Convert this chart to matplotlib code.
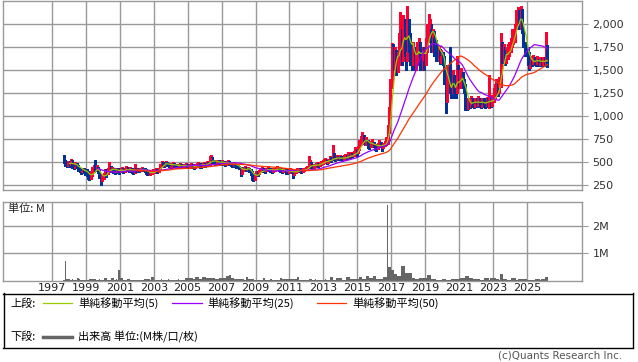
import matplotlib
matplotlib.use('Agg')
import matplotlib.pyplot as plt
import numpy as np
import pandas as pd

plt.rcParams['font.family'] = ['DejaVu Sans']
CJK = ['Noto Sans CJK JP', 'DejaVu Sans']

# ---------------- data (monthly, from Sep 1997) ----------------
start_year, start_month = 1997, 9
first_open = 560

closes = [
    500, 480, 470, 490,                                              # 1997 Sep-Dec
    480, 510, 470, 450, 480, 460, 430, 420, 400, 420, 410, 390,      # 1998
    380, 350, 330, 360, 400, 430, 420, 440, 400, 360, 300, 330,      # 1999
    360, 400, 380, 410, 440, 420, 430, 410, 400, 420, 410, 400,      # 2000
    410, 420, 400, 410, 430, 420, 410, 420, 400, 390, 430, 410,      # 2001
    420, 410, 420, 430, 420, 410, 400, 380, 370, 380, 390, 400,      # 2002
    400, 410, 400, 420, 460, 490, 480, 470, 490, 480, 470, 460,      # 2003
    470, 480, 470, 460, 450, 460, 470, 460, 450, 460, 470, 460,      # 2004
    450, 460, 470, 450, 440, 460, 470, 480, 460, 450, 470, 480,      # 2005
    470, 490, 480, 520, 540, 510, 500, 490, 500, 510, 500, 490,      # 2006
    500, 490, 480, 490, 500, 490, 480, 470, 480, 470, 460, 450,      # 2007
    440, 380, 410, 430, 440, 420, 430, 410, 390, 340, 320, 360,      # 2008
    380, 370, 390, 410, 420, 410, 400, 420, 430, 420, 410, 400,      # 2009
    410, 420, 430, 440, 420, 410, 400, 410, 420, 400, 380, 400,      # 2010
    410, 400, 370, 390, 400, 410, 420, 410, 400, 410, 420, 430,      # 2011
    440, 460, 480, 470, 450, 460, 470, 480, 470, 480, 490, 500,      # 2012
    510, 520, 500, 510, 530, 520, 560, 540, 530, 550, 540, 550,      # 2013
    540, 530, 550, 560, 550, 570, 560, 580, 570, 590, 620, 600,      # 2014
    640, 700, 720, 760, 740, 720, 730, 700, 680, 700, 710, 690,      # 2015
    670, 650, 680, 700, 690, 660, 680, 700, 740, 850, 1000, 1300,    # 2016
    1750, 1600, 1680, 1550, 1650, 1800, 1900, 1750, 1950, 1850, 1700, 2000,  # 2017
    1850, 1700, 1650, 1750, 1600, 1650, 1700, 1800, 1650, 1600, 1700, 1650,  # 2018
    1800, 1900, 1950, 2000, 1850, 1900, 1800, 1750, 1700, 1720, 1650, 1680,  # 2019
    1620, 1500, 1200, 1350, 1450, 1300, 1250, 1400, 1350, 1250, 1500, 1350,  # 2020
    1400, 1450, 1350, 1300, 1150, 1100, 1150, 1120, 1180, 1150, 1130, 1160,  # 2021
    1140, 1170, 1150, 1120, 1160, 1140, 1130, 1170, 1150, 1200, 1140, 1160,  # 2022
    1200, 1250, 1300, 1280, 1350, 1700, 1650, 1720, 1600, 1680, 1700, 1750,  # 2023
    1800, 1850, 1900, 1950, 2050, 2100, 2000, 2150, 1950, 1800, 1750, 1700,  # 2024
    1650, 1550, 1600, 1580, 1620, 1600, 1590, 1610, 1580, 1600, 1590, 1600,  # 2025
    1590, 1620, 1600,                                                # 2026 Jan-Mar
]

highs = [
    580, 520, 500, 510,
    510, 530, 520, 480, 500, 490, 470, 440, 430, 440, 430, 420,
    420, 400, 370, 400, 450, 470, 525, 470, 450, 410, 360, 370,
    380, 420, 420, 440, 500, 460, 450, 440, 420, 440, 430, 420,
    440, 450, 430, 430, 460, 450, 440, 450, 430, 420, 480, 430,
    440, 430, 440, 450, 440, 430, 420, 410, 400, 400, 410, 420,
    420, 430, 420, 440, 480, 510, 500, 490, 510, 500, 490, 480,
    490, 500, 490, 480, 470, 480, 490, 480, 470, 480, 490, 480,
    470, 480, 490, 480, 460, 480, 490, 500, 490, 470, 490, 500,
    490, 510, 500, 560, 580, 550, 520, 510, 520, 525, 520, 510,
    520, 510, 500, 510, 520, 510, 500, 490, 500, 490, 480, 470,
    460, 450, 430, 450, 460, 450, 450, 440, 420, 400, 360, 380,
    400, 400, 410, 430, 450, 440, 420, 440, 460, 440, 430, 420,
    430, 440, 450, 460, 450, 430, 420, 430, 440, 420, 400, 420,
    430, 420, 410, 410, 420, 430, 440, 430, 420, 430, 440, 450,
    460, 560, 520, 500, 480, 480, 490, 500, 490, 500, 510, 520,
    530, 540, 530, 530, 560, 550, 690, 600, 560, 580, 570, 580,
    570, 560, 580, 590, 580, 610, 590, 610, 600, 620, 660, 640,
    670, 740, 780, 830, 790, 760, 770, 740, 720, 730, 750, 720,
    700, 690, 710, 740, 720, 700, 710, 730, 770, 900, 1100, 1400,
    1790, 1780, 1750, 1720, 1700, 1900, 2130, 1950, 2100, 2050, 1900, 2190,
    2050, 1900, 1800, 1800, 1750, 1700, 1800, 1850, 1800, 1700, 1750, 1750,
    1850, 2000, 2110, 2050, 2000, 1950, 1920, 1820, 1780, 1760, 1730, 1720,
    1700, 1650, 1550, 1500, 1550, 1750, 1450, 1500, 1450, 1400, 1650, 1550,
    1500, 1520, 1480, 1400, 1350, 1200, 1200, 1180, 1220, 1200, 1180, 1200,
    1200, 1220, 1200, 1180, 1200, 1190, 1180, 1210, 1200, 1450, 1220, 1230,
    1300, 1350, 1400, 1380, 1420, 1900, 1800, 1780, 1750, 1750, 1780, 1800,
    1850, 1950, 1950, 2000, 2150, 2180, 2150, 2200, 2160, 1950, 1800, 1780,
    1750, 1700, 1650, 1640, 1660, 1640, 1630, 1650, 1620, 1640, 1630, 1640,
    1640, 1910, 1770,
]

lows = [
    490, 460, 450, 460,
    450, 470, 440, 420, 440, 430, 400, 390, 370, 390, 380, 360,
    350, 320, 300, 320, 350, 390, 400, 400, 380, 330, 255, 290,
    320, 350, 340, 370, 400, 390, 400, 380, 370, 390, 380, 370,
    390, 400, 380, 390, 400, 400, 390, 400, 380, 370, 380, 390,
    400, 390, 400, 410, 400, 390, 370, 360, 355, 360, 370, 380,
    380, 390, 380, 395, 420, 450, 460, 450, 460, 460, 450, 440,
    450, 460, 450, 440, 430, 440, 450, 440, 430, 440, 450, 440,
    430, 440, 450, 430, 420, 440, 450, 460, 440, 430, 450, 460,
    450, 460, 460, 470, 500, 490, 480, 470, 480, 490, 480, 470,
    480, 470, 460, 470, 480, 470, 460, 450, 460, 450, 440, 430,
    420, 345, 370, 400, 420, 400, 410, 390, 360, 300, 290, 310,
    350, 350, 370, 390, 400, 390, 380, 400, 410, 400, 390, 380,
    390, 400, 410, 420, 400, 390, 380, 390, 400, 370, 365, 380,
    390, 380, 330, 360, 380, 390, 400, 390, 380, 390, 400, 410,
    420, 430, 450, 440, 430, 440, 450, 460, 450, 460, 470, 480,
    490, 500, 480, 490, 500, 500, 520, 520, 510, 520, 520, 530,
    520, 510, 520, 540, 530, 540, 540, 550, 550, 560, 580, 570,
    600, 630, 680, 700, 700, 690, 690, 650, 640, 660, 670, 660,
    630, 620, 640, 660, 660, 620, 650, 670, 690, 700, 820, 980,
    1300, 1500, 1500, 1450, 1480, 1550, 1700, 1550, 1600, 1650, 1500, 1600,
    1700, 1550, 1500, 1550, 1500, 1500, 1550, 1600, 1500, 1500, 1500, 1500,
    1550, 1700, 1800, 1800, 1700, 1700, 1650, 1600, 1600, 1600, 1560, 1580,
    1550, 1350, 1035, 1150, 1300, 1250, 1200, 1250, 1200, 1200, 1250, 1300,
    1300, 1350, 1300, 1250, 1070, 1060, 1080, 1090, 1100, 1100, 1090, 1100,
    1100, 1110, 1100, 1090, 1100, 1100, 1090, 1110, 1100, 1090, 1100, 1110,
    1150, 1180, 1230, 1220, 1250, 1320, 1580, 1600, 1550, 1580, 1620, 1650,
    1700, 1750, 1780, 1800, 1950, 2000, 1950, 1950, 1900, 1750, 1650, 1650,
    1550, 1500, 1520, 1540, 1560, 1550, 1540, 1560, 1540, 1550, 1540, 1550,
    1540, 1560, 1530,
]

# volume in millions of shares
volumes = [
    0.03, 0.70, 0.04, 0.04,
    0.04, 0.03, 0.04, 0.02, 0.01, 0.02, 0.08, 0.07, 0.02, 0.01, 0.01, 0.01,
    0.01, 0.02, 0.04, 0.04, 0.04, 0.04, 0.04, 0.01, 0.01, 0.04, 0.02, 0.01,
    0.02, 0.08, 0.08, 0.02, 0.01, 0.02, 0.08, 0.08, 0.02, 0.04, 0.01, 0.38,
    0.08, 0.08, 0.02, 0.01, 0.01, 0.04, 0.04, 0.01, 0.01, 0.01, 0.01, 0.01,
    0.01, 0.01, 0.01, 0.01, 0.01, 0.04, 0.04, 0.04, 0.04, 0.01, 0.11, 0.11,
    0.01, 0.01, 0.01, 0.01, 0.01, 0.04, 0.01, 0.01, 0.01, 0.01, 0.04, 0.01,
    0.01, 0.01, 0.01, 0.01, 0.01, 0.04, 0.01, 0.01, 0.01, 0.01, 0.09, 0.09,
    0.08, 0.08, 0.08, 0.08, 0.05, 0.11, 0.11, 0.11, 0.05, 0.05, 0.11, 0.11,
    0.11, 0.08, 0.08, 0.08, 0.08, 0.08, 0.08, 0.05, 0.05, 0.05, 0.08, 0.08,
    0.08, 0.08, 0.08, 0.15, 0.15, 0.19, 0.19, 0.08, 0.08, 0.04, 0.04, 0.04,
    0.04, 0.04, 0.05, 0.05, 0.02, 0.11, 0.11, 0.04, 0.04, 0.04, 0.04, 0.02,
    0.01, 0.01, 0.01, 0.01, 0.01, 0.08, 0.08, 0.01, 0.01, 0.01, 0.04, 0.04,
    0.01, 0.01, 0.01, 0.01, 0.01, 0.08, 0.08, 0.04, 0.04, 0.04, 0.04, 0.04,
    0.04, 0.04, 0.04, 0.04, 0.04, 0.11, 0.11, 0.01, 0.01, 0.01, 0.01, 0.01,
    0.01, 0.01, 0.04, 0.04, 0.01, 0.01, 0.04, 0.01, 0.01, 0.01, 0.01, 0.01,
    0.01, 0.04, 0.01, 0.01, 0.01, 0.11, 0.11, 0.01, 0.01, 0.08, 0.08, 0.09,
    0.09, 0.01, 0.01, 0.01, 0.11, 0.11, 0.11, 0.04, 0.04, 0.04, 0.04, 0.04,
    0.04, 0.11, 0.11, 0.05, 0.05, 0.05, 0.18, 0.18, 0.09, 0.09, 0.09, 0.15,
    0.15, 0.05, 0.05, 0.05, 0.05, 0.05, 0.11, 0.11, 0.11, 2.75, 0.50, 0.50,
    0.38, 0.38, 0.22, 0.22, 0.15, 0.15, 0.15, 0.54, 0.54, 0.54, 0.28, 0.28,
    0.28, 0.28, 0.28, 0.10, 0.10, 0.05, 0.05, 0.05, 0.10, 0.10, 0.08, 0.08,
    0.08, 0.19, 0.19, 0.19, 0.04, 0.04, 0.04, 0.04, 0.01, 0.01, 0.01, 0.01,
    0.04, 0.04, 0.04, 0.01, 0.01, 0.01, 0.04, 0.04, 0.04, 0.04, 0.04, 0.04,
    0.04, 0.10, 0.10, 0.10, 0.18, 0.18, 0.18, 0.10, 0.10, 0.10, 0.06, 0.06,
    0.06, 0.06, 0.06, 0.01, 0.01, 0.01, 0.08, 0.08, 0.08, 0.01, 0.08, 0.08,
    0.08, 0.08, 0.04, 0.04, 0.01, 0.24, 0.24, 0.04, 0.04, 0.04, 0.01, 0.01,
    0.01, 0.10, 0.10, 0.10, 0.01, 0.01, 0.04, 0.04, 0.04, 0.04, 0.04, 0.04,
    0.02, 0.02, 0.02, 0.02, 0.01, 0.01, 0.04, 0.04, 0.04, 0.01, 0.05, 0.05,
    0.05, 0.11, 0.11,
]

price_ticks = [250, 500, 750, 1000, 1250, 1500, 1750, 2000]
volume_ticks = [1, 2]
volume_tick_labels = ['1M', '2M']
year_ticks = list(range(1997, 2026, 2))
ma_windows = [5, 25, 50]
ma_colors = ['#99cc00', '#9900ff', '#ff3300']
ma_labels = ['単純移動平均(5)', '単純移動平均(25)', '単純移動平均(50)']
volume_label = '出来高 単位:(M株/口/枚)'

UP_COLOR = '#ff0033'
DOWN_COLOR = '#003399'
GRID = '#999999'

# ---------------- derived ----------------
n = len(closes)
idx = np.arange(n)
t = start_year + (start_month - 1 + idx) / 12.0 + 1 / 24.0
c = np.array(closes, dtype=float)
o = np.r_[first_open, c[:-1]]
h = np.maximum(np.array(highs, dtype=float), np.maximum(o, c))
l = np.minimum(np.array(lows, dtype=float), np.minimum(o, c))
up = c >= o
cols = np.where(up, UP_COLOR, DOWN_COLOR)

W, H = 638, 362
fig = plt.figure(figsize=(W / 100, H / 100), dpi=100)


def fax(x0, y0, x1, y1):
    return fig.add_axes([x0 / W, 1 - y1 / H, (x1 - x0) / W, (y1 - y0) / H])


xmin, xmax = 1997 - 49 / 16.96, 1997 + 530 / 16.96

# ---------------- price panel ----------------
ax = fax(3, 0.9, 582, 190)
ax.set_axisbelow(True)
ax.vlines(t, l, h, colors=cols, lw=1.0, antialiased=False, zorder=2)
body_lo = np.minimum(o, c)
body_h = np.maximum(np.abs(c - o), 6)
ax.bar(t, body_h, bottom=body_lo, width=0.9 / 12, color=cols,
       linewidth=0, antialiased=False, zorder=2)
s = pd.Series(c)
for w, col in zip(ma_windows, ma_colors):
    ma = s.rolling(w).mean().values
    ax.plot(t, ma, color=col, lw=0.9, zorder=3)

ax.set_xlim(xmin, xmax)
ax.set_ylim(196, 2250)
ax.set_xticks(year_ticks)
ax.set_yticks(price_ticks)
ax.set_yticklabels([f'{v:,}' for v in price_ticks])
ax.yaxis.tick_right()
ax.tick_params(axis='x', length=0, labelbottom=False)
ax.tick_params(axis='y', length=4.5, width=0.8, color=GRID, pad=3,
               labelsize=8, labelcolor='#333333')
ax.grid(True, color=GRID, lw=1.0)
for sp in ax.spines.values():
    sp.set_color(GRID)
    sp.set_linewidth(1.0)

# ---------------- volume panel ----------------
axv = fax(3, 201.5, 582, 280.5)
axv.set_axisbelow(True)
axv.bar(t, volumes, width=1.0 / 12, color='#666666', linewidth=0,
        antialiased=False, zorder=2)
axv.set_xlim(xmin, xmax)
axv.set_ylim(0, 2.88)
axv.set_xticks(year_ticks)
axv.set_xticklabels([str(y) for y in year_ticks])
axv.set_yticks(volume_ticks)
axv.set_yticklabels(volume_tick_labels)
axv.yaxis.tick_right()
axv.tick_params(axis='x', length=0, pad=2, labelsize=8, labelcolor='#222222')
axv.tick_params(axis='y', length=4.5, width=0.8, color=GRID, pad=3,
                labelsize=8, labelcolor='#333333')
axv.grid(True, color=GRID, lw=1.0)
for sp in axv.spines.values():
    sp.set_color(GRID)
    sp.set_linewidth(1.0)
fig.text(8 / W, 1 - 209 / H, '単位: M', fontsize=8, family=CJK,
         va='center', ha='left', color='#222222')

# ---------------- legend box ----------------
lx0, ly0, lx1, ly1 = 3.5, 293.5, 632.5, 347.5
lg = fax(lx0, ly0, lx1, ly1)
lg.set_xlim(lx0, lx1)
lg.set_ylim(ly1, ly0)
lg.set_xticks([])
lg.set_yticks([])
for sp in lg.spines.values():
    sp.set_color('#000000')
    sp.set_linewidth(1.0)

r1, r2 = 303.5, 337
lg.text(10, r1, '上段:', fontsize=8, family=CJK, va='center', ha='left')
seg_x = [(43, 72), (172, 202), (317, 346)]
txt_x = [78, 207, 352]
for (a, b), tx, col, lab in zip(seg_x, txt_x, ma_colors, ma_labels):
    lg.plot([a, b], [r1, r1], color=col, lw=0.9)
    lg.text(tx, r1, lab, fontsize=8, family=CJK, va='center', ha='left')
lg.text(10, r2, '下段:', fontsize=8, family=CJK, va='center', ha='left')
lg.plot([43, 72], [r2, r2], color='#666666', lw=2.5)
lg.text(78, r2, volume_label, fontsize=8, family=CJK, va='center', ha='left')

fig.text(622 / W, 1 - 356 / H, '(c)Quants Research Inc.', fontsize=7.5,
         ha='right', va='center', color='#555555')

fig.savefig('out.png', dpi=100)
